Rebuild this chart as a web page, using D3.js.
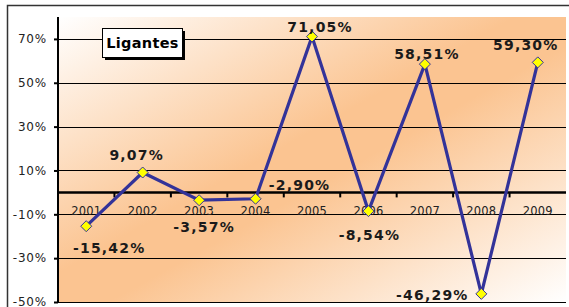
<!doctype html>
<html lang="pt">
<head>
<meta charset="utf-8">
<title>Ligantes</title>
<script src="https://cdn.jsdelivr.net/npm/d3@7/dist/d3.min.js"></script>
<style>
  body { margin: 0; background: #fff; }
  svg { display: block; font-family: "DejaVu Sans", Verdana, sans-serif; }
</style>
</head>
<body>
<svg id="chart" width="569" height="307"></svg>
<script>
const years = ["2001", "2002", "2003", "2004", "2005", "2006", "2007", "2008", "2009"];
const values = [-15.42, 9.07, -3.57, -2.90, 71.05, -8.54, 58.51, -46.29, 59.30];
const yTicks = [-50, -30, -10, 10, 30, 50, 70];
const title = "Ligantes";
// where Excel left each data label, relative to its point
const labelOffsets = [[23, 27], [-6, -13], [5, 32], [44, -9], [8, -5], [1, 29], [2, -5], [-49, 6], [-12, -12]];

const svg = d3.select("#chart");
const plot = { left: 58, right: 566, top: 17, bottom: 302 };

const x = d3.scaleBand().domain(years).range([plot.left, plot.right]);
const y = d3.scaleLinear().domain([-50, 80]).range([plot.bottom, plot.top]);

// plain hyphen and decimal comma, like the Excel original
const fmt = v => (v < 0 ? "-" : "") + Math.abs(v).toFixed(2).replace(".", ",") + "%";

// background gradient (diagonal, white - peach - white)
const defs = svg.append("defs");
const grad = defs.append("linearGradient").attr("id", "bg")
  .attr("x1", "0%").attr("y1", "0%").attr("x2", "100%").attr("y2", "100%");
grad.append("stop").attr("offset", "0%").attr("stop-color", "#ffffff");
grad.append("stop").attr("offset", "45%").attr("stop-color", "#fbc491");
grad.append("stop").attr("offset", "55%").attr("stop-color", "#fbc491");
grad.append("stop").attr("offset", "100%").attr("stop-color", "#ffffff");

// outer frame
svg.append("path")
  .attr("d", "M7.5,307 V5.5 H569")
  .attr("fill", "none").attr("stroke", "#333").attr("stroke-width", 1.5);

svg.append("rect")
  .attr("x", plot.left).attr("y", plot.top)
  .attr("width", plot.right - plot.left).attr("height", plot.bottom - plot.top)
  .attr("fill", "url(#bg)");

// gridlines
svg.append("g").selectAll("line").data(yTicks).join("line")
  .attr("x1", plot.left).attr("x2", plot.right)
  .attr("y1", d => Math.round(y(d)) + 0.5).attr("y2", d => Math.round(y(d)) + 0.5)
  .attr("stroke", "#000").attr("stroke-width", 1);

// y axis
const yAxis = svg.append("g")
  .attr("transform", `translate(${plot.left},0)`)
  .call(d3.axisLeft(y).tickValues(yTicks).tickSize(4).tickPadding(7).tickFormat(d => (d < 0 ? "-" : "") + Math.abs(d) + "%"));
yAxis.select(".domain").attr("stroke", "#000").attr("stroke-width", 2)
  .attr("d", `M0,${plot.top}V${plot.bottom}`);
yAxis.selectAll(".tick line").attr("stroke", "#000").attr("stroke-width", 2);
yAxis.selectAll("text").attr("font-size", 12).attr("letter-spacing", 0.8)
  .attr("fill", "#222").attr("font-family", "DejaVu Sans, sans-serif");

// x axis on zero line
const zeroY = y(0);
svg.append("line")
  .attr("x1", plot.left).attr("x2", plot.right)
  .attr("y1", zeroY).attr("y2", zeroY)
  .attr("stroke", "#000").attr("stroke-width", 2.5);
svg.append("g").selectAll("line").data(years.slice(1)).join("line")
  .attr("x1", d => x(d)).attr("x2", d => x(d))
  .attr("y1", zeroY).attr("y2", zeroY + 5)
  .attr("stroke", "#000").attr("stroke-width", 2);
svg.append("g").selectAll("text").data(years).join("text")
  .attr("x", d => x(d) + x.bandwidth() / 2)
  .attr("y", zeroY + 23)
  .attr("text-anchor", "middle")
  .attr("font-size", 11.5).attr("letter-spacing", 0.2)
  .attr("fill", "#222")
  .text(d => d);

// series line
const pts = years.map((yr, i) => [x(yr) + x.bandwidth() / 2, y(values[i])]);
svg.append("path")
  .attr("d", d3.line()(pts))
  .attr("fill", "none").attr("stroke", "#333399").attr("stroke-width", 3.2)
  .attr("stroke-linejoin", "miter");

// diamond markers
svg.append("g").selectAll("path").data(pts).join("path")
  .attr("transform", d => `translate(${d[0]},${d[1]})`)
  .attr("d", "M0,-5.5L5.5,0L0,5.5L-5.5,0Z")
  .attr("fill", "#ffff00").attr("stroke", "#333399").attr("stroke-width", 1);

// data labels
svg.append("g").selectAll("text").data(values).join("text")
  .attr("x", (d, i) => pts[i][0] + labelOffsets[i][0])
  .attr("y", (d, i) => pts[i][1] + labelOffsets[i][1])
  .attr("text-anchor", "middle")
  .attr("font-size", 14).attr("font-weight", "bold").attr("letter-spacing", 1.2)
  .attr("fill", "#1a1a1a")
  .text(d => fmt(d));

// title box with shadow
const tb = { x: 102, y: 28, w: 80, h: 29 };
svg.append("rect").attr("x", tb.x + 3).attr("y", tb.y + 3).attr("width", tb.w).attr("height", tb.h).attr("fill", "#000");
svg.append("rect").attr("x", tb.x + 0.5).attr("y", tb.y + 0.5).attr("width", tb.w).attr("height", tb.h)
  .attr("fill", "#fff").attr("stroke", "#000").attr("stroke-width", 1);
svg.append("text")
  .attr("x", tb.x + tb.w / 2 + 0.5).attr("y", tb.y + 20)
  .attr("text-anchor", "middle")
  .attr("font-size", 14.5).attr("font-weight", "bold").attr("letter-spacing", 0.3)
  .attr("fill", "#000")
  .text(title);
</script>
</body>
</html>
